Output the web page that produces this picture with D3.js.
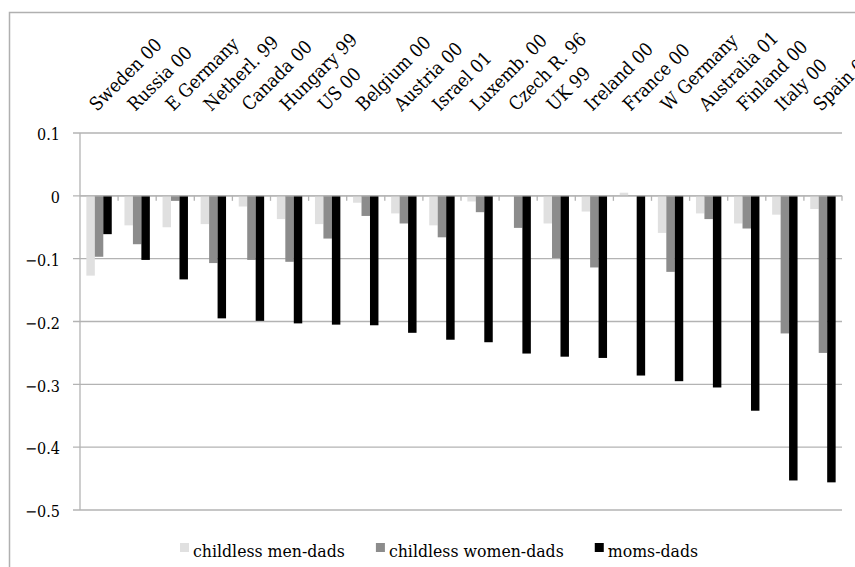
<!DOCTYPE html>
<html>
<head>
<meta charset="utf-8">
<script src="https://cdn.jsdelivr.net/npm/d3@7"></script>
<style>
  body { margin: 0; background: #fff; }
</style>
</head>
<body>
<svg id="chart"></svg>
<script>
var countries = ["Sweden 00", "Russia 00", "E Germany", "Netherl. 99", "Canada 00", "Hungary 99", "US 00",
    "Belgium 00", "Austria 00", "Israel 01", "Luxemb. 00", "Czech R. 96", "UK 99", "Ireland 00",
    "France 00", "W Germany", "Australia 01", "Finland 00", "Italy 00", "Spain 00"];

var seriesNames = ["childless men-dads", "childless women-dads", "moms-dads"];
var seriesColors = ["#e0e0e0", "#8c8c8c", "#000000"];

var menDads = [-0.127, -0.047, -0.050, -0.045, -0.017, -0.037, -0.045, -0.011, -0.028, -0.047,
    -0.009, 0, -0.044, -0.025, 0.005, -0.059, -0.028, -0.044, -0.030, -0.021];
var womenDads = [-0.097, -0.077, -0.008, -0.107, -0.102, -0.105, -0.068, -0.032, -0.044, -0.066,
    -0.026, -0.051, -0.099, -0.114, 0.001, -0.121, -0.037, -0.052, -0.219, -0.250];
var momsDads = [-0.061, -0.102, -0.133, -0.195, -0.199, -0.203, -0.205, -0.206, -0.218, -0.229,
    -0.233, -0.251, -0.256, -0.258, -0.286, -0.295, -0.305, -0.342, -0.453, -0.456];

var yTicks = [0.1, 0, -0.1, -0.2, -0.3, -0.4, -0.5];

var serif = "'DejaVu Serif Condensed', 'DejaVu Serif', serif";

var svg = d3.select("#chart")
    .attr("width", 855)
    .attr("height", 567)
    .style("font-family", serif)
    .style("font-stretch", "condensed");

// outer chart frame (runs off the right and bottom)
svg.append("rect")
    .attr("x", 9.5)
    .attr("y", 12.5)
    .attr("width", 900)
    .attr("height", 600)
    .attr("fill", "none")
    .attr("stroke", "#b0b0b0")
    .attr("stroke-width", 1.5);

var xScale = d3.scaleBand().domain(countries).range([80, 842]);
var xInner = d3.scaleBand().domain(seriesNames).range([0, xScale.bandwidth()]).paddingOuter(0.75);
var yScale = d3.scaleLinear().domain([-0.5, 0.1]).range([510, 133]);

// grid lines
svg.append("g")
    .selectAll("line")
    .data(yTicks)
    .enter().append("line")
    .attr("x1", 73)
    .attr("x2", 842)
    .attr("y1", d => yScale(d))
    .attr("y2", d => yScale(d))
    .attr("stroke", "#b3b3b3")
    .attr("stroke-width", 1.3);

// y tick labels
svg.append("g")
    .selectAll("text")
    .data(yTicks)
    .enter().append("text")
    .attr("x", 60)
    .attr("y", d => yScale(d))
    .attr("dy", "0.45em")
    .attr("text-anchor", "end")
    .style("font-size", "16px")
    .text(d => d === 0 ? "0" : d3.format(".1f")(d));

// bars
var table = countries.map((c, i) => ({
    country: c,
    values: [menDads[i], womenDads[i], momsDads[i]]
}));

var groups = svg.append("g")
    .selectAll("g")
    .data(table)
    .enter().append("g")
    .attr("transform", d => "translate(" + xScale(d.country) + ",0)");

groups.selectAll("rect")
    .data(d => d.values.map((v, j) => ({ key: seriesNames[j], value: v, color: seriesColors[j] })))
    .enter().append("rect")
    .attr("x", d => xInner(d.key))
    .attr("y", d => yScale(Math.max(0, d.value)))
    .attr("width", xInner.bandwidth())
    .attr("height", d => Math.abs(yScale(d.value) - yScale(0)))
    .attr("fill", d => d.color);

// y axis line
svg.append("line")
    .attr("x1", 80).attr("x2", 80)
    .attr("y1", yScale(0.1)).attr("y2", yScale(-0.5))
    .attr("stroke", "#b3b3b3")
    .attr("stroke-width", 1.3);

// x axis line at zero with small category ticks
svg.append("line")
    .attr("x1", 80).attr("x2", 842)
    .attr("y1", yScale(0)).attr("y2", yScale(0))
    .attr("stroke", "#b3b3b3")
    .attr("stroke-width", 1.3);

var boundaries = countries.map(c => xScale(c) + xScale.bandwidth());
svg.append("g")
    .selectAll("line")
    .data(boundaries)
    .enter().append("line")
    .attr("x1", d => d).attr("x2", d => d)
    .attr("y1", yScale(0)).attr("y2", yScale(0) + 5)
    .attr("stroke", "#b3b3b3")
    .attr("stroke-width", 1.3);

// category labels on top, rotated
svg.append("g")
    .selectAll("text")
    .data(countries)
    .enter().append("text")
    .attr("transform", d => "translate(" + (xScale(d) + xScale.bandwidth() / 2 - 2) + ",112) rotate(-45)")
    .attr("text-anchor", "start")
    .style("font-size", "18.5px")
    .text(d => d);

// legend
var legend = svg.append("g");
var lx = 180;
seriesNames.forEach((name, i) => {
    legend.append("rect")
        .attr("x", lx)
        .attr("y", 543)
        .attr("width", 9)
        .attr("height", 9)
        .attr("fill", seriesColors[i]);
    var t = legend.append("text")
        .attr("x", lx + 13)
        .attr("y", 557)
        .style("font-size", "17.5px")
        .text(name);
    lx = lx + 13 + t.node().getComputedTextLength() + 31;
});
</script>
</body>
</html>
